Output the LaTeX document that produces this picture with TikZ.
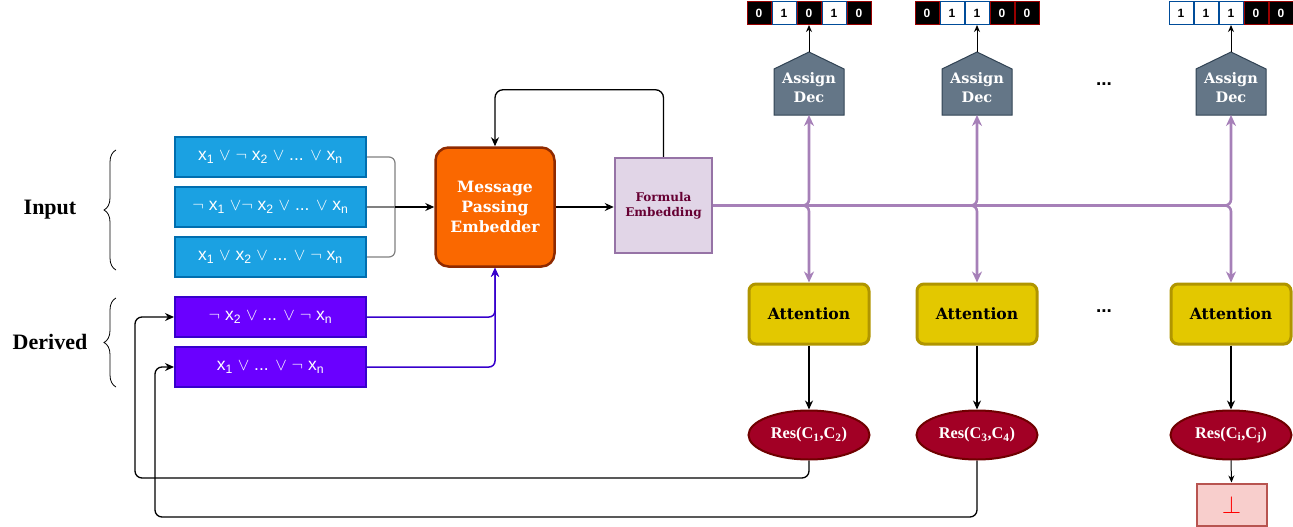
\documentclass[tikz,border=0pt]{standalone}
\usepackage{fontspec}
\setmainfont{Liberation Serif}
\newfontfamily\georgia{DejaVu Serif}
\newfontfamily\helv{Liberation Sans}
\usetikzlibrary{shapes.geometric,arrows.meta,decorations.pathreplacing}

\definecolor{clausefill}{HTML}{1BA1E2}
\definecolor{clauseline}{HTML}{006EAF}
\definecolor{derivfill}{HTML}{6A00FF}
\definecolor{derivline}{HTML}{3700CC}
\definecolor{mpefill}{HTML}{FA6800}
\definecolor{mpeline}{HTML}{8F2A00}
\definecolor{embfill}{HTML}{E1D5E7}
\definecolor{embline}{HTML}{9673A6}
\definecolor{embtext}{HTML}{660033}
\definecolor{attfill}{HTML}{E3C800}
\definecolor{attline}{HTML}{B09500}
\definecolor{resfill}{HTML}{A20025}
\definecolor{resline}{HTML}{6F0000}
\definecolor{decfill}{HTML}{647687}
\definecolor{decline}{HTML}{314354}
\definecolor{botfill}{HTML}{F8CECC}
\definecolor{botline}{HTML}{B85450}
\definecolor{bitred}{HTML}{990000}
\definecolor{bitblue}{HTML}{004C99}
\definecolor{splitcol}{HTML}{A680B8}

\newcommand{\sub}[1]{\textsubscript{#1}}
\newcommand{\vor}{\ensuremath{\vee}}
\newcommand{\vnot}{\ensuremath{\neg}}

\begin{document}
\begin{tikzpicture}[x=1pt,y=-1pt,
  clause/.style={draw=clauseline,fill=clausefill,line width=2pt,minimum width=191pt,minimum height=40pt,
    inner sep=0pt,text=white,font={\helv\fontsize{17.5}{20}\selectfont}},
  derived/.style={clause,draw=derivline,fill=derivfill},
  mpebox/.style={draw=mpeline,fill=mpefill,line width=2.5pt,rounded corners=13pt,minimum width=119pt,
    minimum height=119pt,text=white,align=center,font={\georgia\bfseries\fontsize{15.6}{20}\selectfont}},
  embbox/.style={draw=embline,fill=embfill,line width=2.5pt,minimum width=97pt,minimum height=95pt,
    text=embtext,align=center,font={\georgia\bfseries\fontsize{12}{15}\selectfont}},
  attbox/.style={draw=attline,fill=attfill,line width=3pt,rounded corners=7pt,minimum width=120pt,
    minimum height=60pt,font={\georgia\bfseries\fontsize{15.6}{18}\selectfont}},
  resnode/.style={ellipse,draw=resline,fill=resfill,line width=2pt,minimum width=121pt,minimum height=49pt,
    inner sep=0pt,text=white,font={\bfseries\fontsize{16.3}{18}\selectfont}},
  botbox/.style={draw=botline,fill=botfill,line width=2pt,minimum width=70pt,minimum height=42pt,text=red,
    font=\fontsize{24}{24}\selectfont},
  dectext/.style={text=white,align=center,minimum width=70pt,minimum height=46pt,inner sep=0pt,
    font={\georgia\bfseries\fontsize{14.5}{19}\selectfont}},
  bit0/.style={draw=bitred,fill=black,text=white,line width=1pt,minimum width=24pt,minimum height=23pt,
    inner sep=0pt,font={\helv\bfseries\fontsize{12}{14}\selectfont}},
  bit1/.style={bit0,draw=bitblue,fill=white,text=black},
  sidelabel/.style={font={\bfseries\fontsize{22}{24}\selectfont}},
  dots/.style={font={\helv\bfseries\fontsize{19}{20}\selectfont}},
  brace/.style={decorate,decoration={brace,amplitude=12pt},line width=0.8pt},
  arr/.style={line width=1.3pt,-{Stealth[length=9pt,width=8pt]}},
  graymerge/.style={draw=gray,line width=1.2pt,rounded corners=6pt},
  derivarr/.style={draw=derivline,line width=1.5pt,rounded corners=6pt,-{Stealth[length=9pt,width=8pt]}},
  split/.style={draw=splitcol,line width=2.6pt,rounded corners=6pt,-{Stealth[length=11pt,width=10pt]}}
]
\useasboundingbox (0,0) rectangle (1293,527);

% Labels and braces
\node[sidelabel] (inlabel) at (50,210) {Input};
\node[sidelabel] (derlabel) at (50,342) {Derived};
\draw[brace] (116,270) -- (116,150);
\draw[brace] (116,387) -- (116,298);

% Clauses
\node[clause] (clause1) at (270.5,157) {x\sub{1} \vor{} \vnot{} x\sub{2} \vor{} ... \vor{} x\sub{n}};
\node[clause] (clause2) at (270.5,207) {\vnot{} x\sub{1} \vor\vnot{} x\sub{2} \vor{} ... \vor{} x\sub{n}};
\node[clause] (clause3) at (270.5,257) {x\sub{1} \vor{} x\sub{2} \vor{} ... \vor{} \vnot{} x\sub{n}};
\node[derived] (der1) at (270.5,317) {\vnot{} x\sub{2} \vor{} ... \vor{} \vnot{} x\sub{n}};
\node[derived] (der2) at (270.5,367) {x\sub{1} \vor{} ... \vor{} \vnot{} x\sub{n}};

% Embedders
\node[mpebox] (mpe) at (495,207) {Message\\Passing\\Embedder};
\node[embbox] (emb) at (663.5,205.5) {Formula\\Embedding};

\coordinate (merge) at (395,207);
\draw[graymerge] (clause1.east) -| (merge);
\draw[graymerge] (clause3.east) -| (merge);
\draw[graymerge] (clause2.east) -- (merge);
\draw[arr] (merge) -- (mpe.west);
\draw[derivarr] (der1.east) -| (mpe.south);
\draw[derivarr] (der2.east) -| (mpe.south);
\draw[arr] (mpe.east) -- (mpe.east -| emb.west);
\draw[arr,rounded corners=8pt] (emb.north) -- ++(0,-67) -| (mpe.north);

% Columns: decoder, attention, resolvent
\foreach \i/\x/\bits in {1/809/{0,1,0,1,0},2/977/{0,1,1,0,0},3/1231/{1,1,1,0,0}}{
  \draw[draw=decline,fill=decfill,line width=1pt] (\x-35,115) -- (\x-35,69) -- (\x,52) -- (\x+35,69)
    -- (\x+35,115) -- cycle;
  \coordinate (roof\i) at (\x,52);
  \coordinate (decbase\i) at (\x,115);
  \node[dectext] (dec\i) at (\x,88) {Assign\\Dec};
  \foreach \b [count=\k] in \bits
    \node[bit\b] (bit\i-\k) at (\x+25*\k-75,13) {\b};
  \draw[line width=1pt,-{Stealth[length=7pt,width=6pt]}] (roof\i) -- (bit\i-3.south);
  \node[attbox] (att\i) at (\x,314) {Attention};
  \draw[split] (emb.east) -| (decbase\i);
  \draw[split] (emb.east) -| (att\i.north);
}
\node[resnode] (res1) at (809,435) {Res(C\sub{1},C\sub{2})};
\node[resnode] (res2) at (977,435) {Res(C\sub{3},C\sub{4})};
\node[resnode] (res3) at (1231,435) {Res(C\sub{i},C\sub{j})};
\foreach \i in {1,2,3}
  \draw[arr] (att\i.south) -- (res\i.north);
\node[botbox] (bot) at (1231.5,504.5) {$\perp$};
\draw[line width=1pt,-{Stealth[length=7pt,width=6pt]}] (res3.south) -- (bot.north);

\node[dots] (dotsup) at (1104,84) {...};
\node[dots] (dotsdown) at (1104,311) {...};

% Feedback of resolvents
\coordinate (loop1) at (135,478);
\coordinate (loop2) at (155,517);
\draw[arr,rounded corners=7pt] (res1.south) |- (loop1) |- (der1.west);
\draw[arr,rounded corners=7pt] (res2.south) |- (loop2) |- (der2.west);

\end{tikzpicture}
\end{document}
